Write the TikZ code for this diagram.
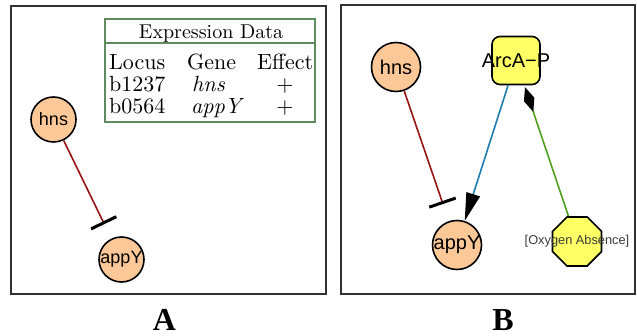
\documentclass[tikz,border=0pt]{standalone}
\usepackage{fontspec}
\setmainfont{lmroman10-regular.otf}[ItalicFont=lmroman10-italic.otf, BoldFont=lmroman10-bold.otf, BoldItalicFont=lmroman10-bolditalic.otf]
\setsansfont{Liberation Sans}
\newfontfamily\lblfont{Liberation Serif}
\usetikzlibrary{arrows.meta,shapes.geometric}
\definecolor{peach}{RGB}{253,200,152}
\definecolor{nodeyellow}{RGB}{255,255,102}
\definecolor{inhred}{RGB}{150,20,20}
\definecolor{actblue}{RGB}{30,125,175}
\definecolor{actgreen}{RGB}{80,160,30}
\definecolor{tblgreen}{RGB}{95,140,95}
\definecolor{framegray}{RGB}{50,50,50}
\definecolor{condtext}{RGB}{60,60,60}
\newcommand{\zw}[1]{\makebox[0pt][c]{#1}}
\tikzset{
  panel/.style={draw=framegray, line width=2pt},
  geneA/.style={circle, draw=black, line width=1.6pt, fill=peach, minimum size=45pt, inner sep=0pt, font=\sffamily\fontsize{18}{20}\selectfont},
  geneB/.style={circle, draw=black, line width=1.6pt, fill=peach, minimum size=49pt, inner sep=0pt, font=\sffamily\fontsize{20}{22}\selectfont},
  protein/.style={rectangle, rounded corners=8pt, draw=black, line width=1.6pt, fill=nodeyellow, minimum size=48pt, inner sep=0pt, font=\sffamily\fontsize{20}{22}\selectfont},
  cond/.style={regular polygon, regular polygon sides=8, draw=black, line width=1.6pt, fill=nodeyellow, minimum size=53pt, inner sep=0pt},
  condlabel/.style={font=\sffamily\fontsize{12.8}{14}\selectfont, text=condtext},
  inhib/.style={draw=inhred, line width=1.6pt, -{Bar[width=28pt, line width=3pt, color=black]}},
  activ/.style={draw=actblue, line width=1.6pt, -{Triangle[length=28pt, width=14pt, color=black]}},
  modul/.style={draw=actgreen, line width=1.6pt, -{Diamond[length=26pt, width=11pt, color=black]}, shorten >=2pt},
  tbltxt/.style={inner sep=0pt, font=\fontsize{22}{24}\selectfont},
  tblhead/.style={inner sep=0pt, font=\fontsize{20}{24}\selectfont},
  panellabel/.style={inner sep=0pt, font=\lblfont\bfseries\fontsize{32}{34}\selectfont}
}
\begin{document}
\begin{tikzpicture}[x=1pt, y=-1pt]
\useasboundingbox (0,0) rectangle (637,336);
% panels
\node[panel, minimum width=315pt, minimum height=288pt, inner sep=0pt] (panelA) at (168.5,150) {};
\node[panel, minimum width=294pt, minimum height=289pt, inner sep=0pt] (panelB) at (488,149.5) {};
% table
\node[draw=tblgreen, line width=2pt, minimum width=210pt, minimum height=103pt, inner sep=0pt] (tbl) at (210,70.5) {};
\coordinate (tl) at (105,43);
\coordinate (tr) at (315,43);
\draw[draw=tblgreen, line width=2pt] (tl) -- (tr);
\node[tblhead, anchor=base] (hdr) at (211,38.5) {Expression Data};
\node[tbltxt, anchor=base west] (c1) at (109,70) {Locus};
\node[tbltxt, anchor=base west] (c2) at (187,70) {Gene};
\node[tbltxt, anchor=base west] (c3) at (257,70) {Effect};
\node[tbltxt, anchor=base west] (r1a) at (109,92) {b1237};
\node[tbltxt, anchor=base west] (r1b) at (192,92) {\textit{hns}};
\node[tbltxt, anchor=base] (r1c) at (285,92) {+};
\node[tbltxt, anchor=base west] (r2a) at (109,114) {b0564};
\node[tbltxt, anchor=base west] (r2b) at (191,114) {\textit{appY}};
\node[tbltxt, anchor=base] (r2c) at (285,114) {+};
% panel A graph
\node[geneA] (hnsA) at (53.5,119.5) {\zw{hns}};
\node[geneA] (appyA) at (121.5,259.5) {\zw{appY}};
\draw[inhib, shorten >=16pt] (hnsA) -- (appyA);
% panel B graph
\node[geneB] (hnsB) at (396,67) {\zw{hns}};
\node[geneB] (appyB) at (457,245) {\zw{appY}};
\node[protein] (arca) at (516,60.5) {\zw{ArcA−P}};
\node[cond, label={[condlabel]center:{[Oxygen Absence]}}] (oxy) at (577,241.5) {};
\draw[inhib, shorten >=18pt] (hnsB) -- (appyB);
\draw[activ] (arca) -- (appyB);
\draw[modul] (oxy) -- (arca);
% labels
\node[panellabel, anchor=base] (labA) at (164.5,330.5) {A};
\node[panellabel, anchor=base] (labB) at (503,330.5) {B};
\end{tikzpicture}
\end{document}
